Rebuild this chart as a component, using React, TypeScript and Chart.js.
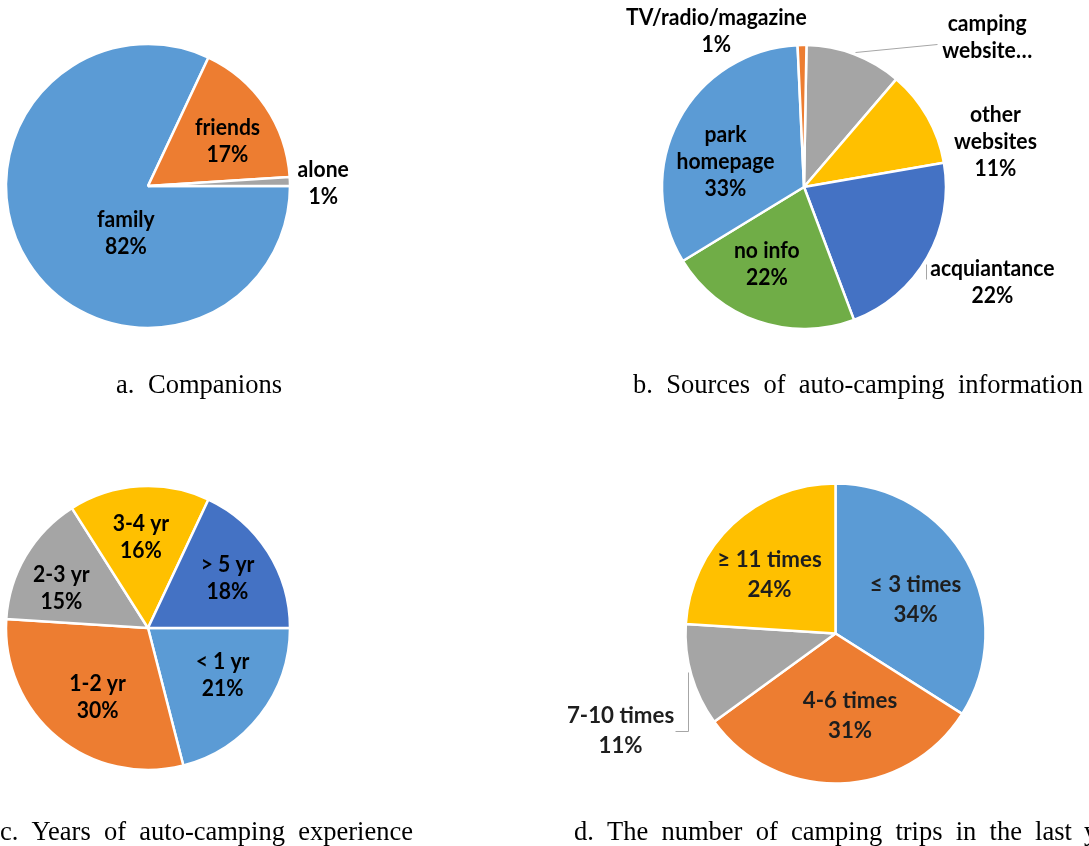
import React, { useEffect, useRef } from "react";
import { Chart, registerables } from "chart.js";

Chart.register(...registerables);

// ---- data ----
const companionLabels = ["family", "friends", "alone"];
const companionValues = [82, 17, 1];

const sourceLabels = ["camping\nwebsite…", "other\nwebsites", "acquiantance", "no info", "park\nhomepage", "TV/radio/magazine"];
const sourceValues = [11, 11, 22, 22, 33, 1];

const experienceLabels = ["< 1 yr", "1-2 yr", "2-3 yr", "3-4 yr", "> 5 yr"];
const experienceValues = [21, 30, 15, 16, 18];

const tripLabels = ["≤ 3 times", "4-6 times", "7-10 times", "≥ 11 times"];
const tripValues = [34, 31, 11, 24];

// ---- palette ----
const BLUE = "#5B9BD5";
const ORANGE = "#ED7D31";
const GRAY = "#A5A5A5";
const YELLOW = "#FFC000";
const NAVY = "#4472C4";
const GREEN = "#70AD47";

const W = 1089;
const H = 846;

type LabelItem = { at: [number, number]; value?: boolean };
type PieSpec = {
  labels: string[];
  values: number[];
  colors: string[];
  cx: number;
  cy: number;
  r: number;
  rotation: number;
  items: LabelItem[];
  leaders: [number, number][][];
  font: string;
  color: string;
  lineHeight: number;
  squeeze: number;
  blur?: number;
};

// draws the category/percentage labels and their leader lines
const pieLabelPlugin = {
  id: "pieLabels",
  afterDatasetsDraw(chart: any, _args: any, opts: any) {
    const arc = chart.getDatasetMeta(0).data[0];
    if (!arc || !opts.items) return;
    const cx = arc.x;
    const cy = arc.y;
    const r = arc.outerRadius;
    const ctx = chart.ctx as CanvasRenderingContext2D;
    ctx.save();
    ctx.strokeStyle = "#A6A6A6";
    ctx.lineWidth = 1;
    for (const path of opts.leaders as [number, number][][]) {
      ctx.beginPath();
      path.forEach(([fx, fy], i) => {
        const px = Math.round(cx + fx * r) + 0.5;
        const py = Math.round(cy + fy * r) + 0.5;
        if (i === 0) ctx.moveTo(px, py);
        else ctx.lineTo(px, py);
      });
      ctx.stroke();
    }
    ctx.font = opts.font;
    ctx.fillStyle = opts.color;
    ctx.textAlign = "center";
    ctx.textBaseline = "middle";
    const labels = chart.data.labels as string[];
    const values = chart.data.datasets[0].data as number[];
    (opts.items as LabelItem[]).forEach((item, i) => {
      const lines = String(labels[i]).split("\n");
      if (item.value !== false) lines.push(values[i] + "%");
      const bx = cx + item.at[0] * r;
      const by = cy + item.at[1] * r;
      lines.forEach((line, k) => {
        const ly = by + (k - (lines.length - 1) / 2) * opts.lineHeight;
        ctx.save();
        ctx.translate(bx, ly);
        ctx.scale(opts.squeeze, 1);
        ctx.fillText(line, 0, 0);
        ctx.restore();
      });
    });
    ctx.restore();
  },
};

const boldFont = "bold 22px Lato";

const pies: PieSpec[] = [
  {
    labels: companionLabels,
    values: companionValues,
    colors: [BLUE, ORANGE, GRAY],
    cx: 148, cy: 186, r: 142, rotation: 90,
    items: [
      { at: [-0.156, 0.337] },
      { at: [0.56, -0.316] },
      { at: [1.234, -0.02] },
    ],
    leaders: [],
    font: boldFont, color: "#000", lineHeight: 27, squeeze: 0.96,
  },
  {
    labels: sourceLabels,
    values: sourceValues,
    colors: [GRAY, YELLOW, NAVY, GREEN, BLUE, ORANGE],
    cx: 804, cy: 187, r: 142, rotation: 1,
    items: [
      { at: [1.29, -1.053], value: false },
      { at: [1.348, -0.319] },
      { at: [1.326, 0.674] },
      { at: [-0.262, 0.543] },
      { at: [-0.553, -0.174] },
      { at: [-0.617, -1.096] },
    ],
    leaders: [
      [[0.362, -0.95], [0.936, -1.007]],
      [[0.858, 0.539], [0.858, 0.645]],
    ],
    font: boldFont, color: "#000", lineHeight: 27, squeeze: 0.96,
  },
  {
    labels: experienceLabels,
    values: experienceValues,
    colors: [BLUE, ORANGE, GRAY, YELLOW, NAVY],
    cx: 148, cy: 628, r: 142, rotation: 90,
    items: [
      { at: [0.525, 0.333] },
      { at: [-0.355, 0.486] },
      { at: [-0.61, -0.28] },
      { at: [-0.05, -0.635] },
      { at: [0.56, -0.351] },
    ],
    leaders: [],
    font: boldFont, color: "#000", lineHeight: 27, squeeze: 0.96,
  },
  {
    labels: tripLabels,
    values: tripValues,
    colors: [BLUE, ORANGE, GRAY, YELLOW],
    cx: 835.5, cy: 633.5, r: 150, rotation: 0,
    items: [
      { at: [0.534, -0.228] },
      { at: [0.097, 0.547] },
      { at: [-1.433, 0.648] },
      { at: [-0.44, -0.393] },
    ],
    leaders: [[[-0.983, 0.258], [-0.983, 0.648], [-1.07, 0.648]]],
    font: "bold 23px Lato", color: "#1e1e1e", lineHeight: 30, squeeze: 0.97,
    blur: 0.6,
  },
];

function PieCanvas({ spec }: { spec: PieSpec }) {
  const ref = useRef<HTMLCanvasElement | null>(null);
  useEffect(() => {
    if (!ref.current) return;
    const m = 4;
    const chart = new Chart(ref.current, {
      type: "pie",
      data: {
        labels: spec.labels,
        datasets: [
          {
            data: spec.values,
            backgroundColor: spec.colors,
            borderColor: "#ffffff",
            borderWidth: 2.5,
            radius: spec.r,
          } as any,
        ],
      },
      options: {
        animation: false,
        responsive: false,
        events: [],
        rotation: spec.rotation,
        layout: {
          padding: {
            left: spec.cx - spec.r - m,
            right: W - spec.cx - spec.r - m,
            top: spec.cy - spec.r - m,
            bottom: H - spec.cy - spec.r - m,
          },
        },
        plugins: {
          legend: { display: false },
          tooltip: { enabled: false },
          pieLabels: {
            items: spec.items,
            leaders: spec.leaders,
            font: spec.font,
            color: spec.color,
            lineHeight: spec.lineHeight,
            squeeze: spec.squeeze,
          },
        } as any,
      },
      plugins: [pieLabelPlugin],
    });
    return () => chart.destroy();
  }, [spec]);
  return (
    <canvas
      ref={ref}
      width={W}
      height={H}
      style={{
        position: "absolute",
        left: 0,
        top: 0,
        width: W,
        height: H,
        filter: spec.blur ? `blur(${spec.blur}px)` : undefined,
      }}
    />
  );
}

// caption words spread between a left and right edge
function Caption({ words, left, right, baseline }: { words: string[]; left: number; right: number; baseline: number }) {
  const size = 26.5;
  return (
    <div
      style={{
        position: "absolute",
        left,
        width: right - left,
        top: baseline - 0.84 * size,
        height: size,
        lineHeight: `${size}px`,
        fontFamily: '"Liberation Serif", "Times New Roman", serif',
        fontSize: size,
        color: "#000",
        display: "flex",
        justifyContent: "space-between",
        whiteSpace: "nowrap",
      }}
    >
      {words.map((w, i) => (
        <span key={i}>{w}</span>
      ))}
    </div>
  );
}

export default function App() {
  return (
    <div
      style={{
        position: "fixed",
        left: 0,
        top: 0,
        width: W,
        height: H,
        overflow: "hidden",
        background: "#fff",
      }}
    >
      {pies.map((p, i) => (
        <PieCanvas key={i} spec={p} />
      ))}
      <Caption words={["a.", "Companions"]} left={116} right={282} baseline={393.5} />
      <Caption words={["b.", "Sources", "of", "auto-camping", "information"]} left={633} right={1083} baseline={393.5} />
      <Caption words={["c.", "Years", "of", "auto-camping", "experience"]} left={0} right={413} baseline={840} />
      <Caption words={["d.", "The", "number", "of", "camping", "trips", "in", "the", "last"]} left={574} right={1072} baseline={840} />
      <Caption words={["year"]} left={1084} right={1160} baseline={840} />
    </div>
  );
}
